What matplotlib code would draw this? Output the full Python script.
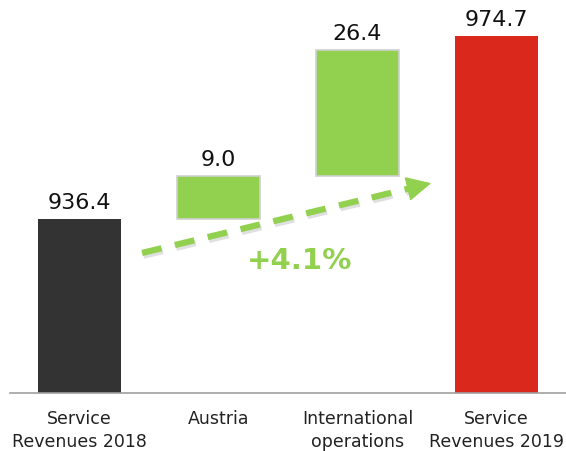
import matplotlib
matplotlib.use('Agg')
import matplotlib.pyplot as plt
import matplotlib.patheffects as pe
import numpy as np

# Waterfall data
categories = ['Service\nRevenues 2018', 'Austria', 'International\noperations', 'Service\nRevenues 2019']
values = [936.4, 9.0, 26.4, 974.7]
value_labels = ['936.4', '9.0', '26.4', '974.7']
kinds = ['total', 'delta', 'delta', 'total']
growth_label = '+4.1%'

colors = {'start': '#333333', 'delta': '#92D050', 'end': '#DA291C'}
y_floor = 900

# bottoms / heights for a floating waterfall
bottoms, heights = [], []
running = 0
for v, k in zip(values, kinds):
    if k == 'total':
        bottoms.append(y_floor)
        heights.append(v - y_floor)
        running = v
    else:
        bottoms.append(running)
        heights.append(v)
        running += v
bar_colors = [colors['start'], colors['delta'], colors['delta'], colors['end']]
edge_colors = ['none', '#d0d0d0', '#d0d0d0', 'none']

fig = plt.figure(figsize=(5.66, 4.51), dpi=100)
ax = fig.add_axes([10 / 566, 58 / 451, 556 / 566, 393 / 451])

x = np.arange(len(categories))
ax.bar(x, heights, bottom=bottoms, width=0.59, color=bar_colors,
       edgecolor=edge_colors, linewidth=1.2, zorder=2)

for xi, b, h, lab in zip(x, bottoms, heights, value_labels):
    ax.annotate(lab, (xi, b + h), xytext=(0, 4), textcoords='offset points',
                ha='center', va='bottom', fontsize=16, color='#111111')

ax.set_xlim(-0.5, 3.5)
ax.set_ylim(y_floor, y_floor + 393 / 4.78)

ax.set_xticks(x)
ax.set_xticklabels(categories, fontsize=12.5, color='#222222', linespacing=1.35)
ax.tick_params(axis='x', length=0, pad=12)
ax.set_yticks([])
for s in ['top', 'left', 'right']:
    ax.spines[s].set_visible(False)
ax.spines['bottom'].set_color('#a0a0a0')
ax.spines['bottom'].set_linewidth(1.2)

# dashed growth arrow
x0, y0 = 0.45, y_floor + 29.3
x1, y1 = 2.53, y_floor + 43.9
shadow = [pe.SimpleLineShadow(offset=(1, -2), shadow_color='#999999', alpha=0.3), pe.Normal()]
t = 0.95
ax.plot([x0, x0 + (x1 - x0) * t], [y0, y0 + (y1 - y0) * t], color='#92D050', lw=4.5,
        dashes=(3.2, 2.2), dash_capstyle='butt', zorder=3,
        path_effects=shadow)
ax.annotate('', xy=(x1, y1), xytext=(x0 + (x1 - x0) * 0.97, y0 + (y1 - y0) * 0.97),
            arrowprops=dict(arrowstyle='-|>,head_length=1.0,head_width=0.5',
                            mutation_scale=16, fc='#92D050', ec='#92D050', lw=1,
                            shrinkA=0, shrinkB=0), zorder=3)

ax.text(1.58, y_floor + 27.6, growth_label, ha='center', va='center',
        fontsize=21, fontweight='bold', color='#92D050')

fig.savefig('out.png', dpi=100)
